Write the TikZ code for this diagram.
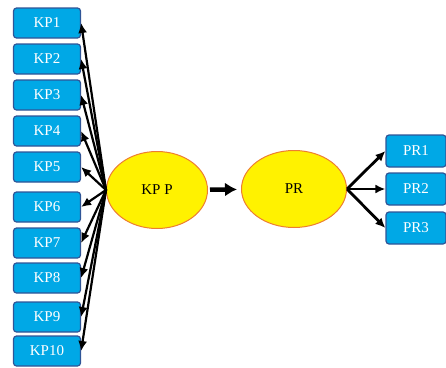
\documentclass[tikz,border=0pt]{standalone}
\usepackage{fontspec}
\setmainfont{Liberation Serif}
\usetikzlibrary{shapes,arrows,arrows.meta,positioning}
\usepackage{xcolor}
\definecolor{boxblue}{HTML}{00A8E6}
\definecolor{boxedge}{HTML}{2F5597}
\definecolor{ovaledge}{HTML}{ED7D31}

\begin{document}
\begin{tikzpicture}[x=1pt,y=-1pt]
      \tikzstyle{kp} = [rectangle, rounded corners=3pt, draw=boxedge, line width=1.2pt, fill=boxblue, text=white, minimum width=67pt, minimum height=30pt, font=\fontsize{15}{17}\selectfont]
      \tikzstyle{latent} = [ellipse, draw=ovaledge, line width=1pt, fill=yellow, minimum width=101pt, minimum height=77pt, font=\fontsize{15}{17}\selectfont]
      \tikzstyle{link} = [-{Latex[length=10pt,width=9pt]}, line width=2.2pt]
      \useasboundingbox (0,0) rectangle (446,367);

      \node[kp] (kp1) at (47,23) {KP1};
      \node[kp] (kp2) at (47,59) {KP2};
      \node[kp] (kp3) at (47,95) {KP3};
      \node[kp] (kp4) at (47,131) {KP4};
      \node[kp] (kp5) at (47,167) {KP5};
      \node[kp] (kp6) at (47,207) {KP6};
      \node[kp] (kp7) at (47,243) {KP7};
      \node[kp] (kp8) at (47,278) {KP8};
      \node[kp] (kp9) at (47,317) {KP9};
      \node[kp] (kp10) at (47,351) {KP10};

      \node[latent] (kpp) at (157,190) {KP P};
      \node[latent, minimum width=105pt] (pr) at (294,189) {PR};

      \node[kp, minimum width=60pt, minimum height=32pt] (pr1) at (416,151) {PR1};
      \node[kp, minimum width=60pt, minimum height=32pt] (pr2) at (416,189) {PR2};
      \node[kp, minimum width=60pt, minimum height=32pt] (pr3) at (416,228) {PR3};

      \draw[link] (kpp.west) -- (kp1.east);
      \draw[link] (kpp.west) -- (kp2.east);
      \draw[link] (kpp.west) -- (kp3.east);
      \draw[link] (kpp.west) -- (kp4.east);
      \draw[link] (kpp.west) -- (kp5.east);
      \draw[link] (kpp.west) -- (kp6.east);
      \draw[link] (kpp.west) -- (kp7.east);
      \draw[link] (kpp.west) -- (kp8.east);
      \draw[link] (kpp.west) -- (kp9.east);
      \draw[link] (kpp.west) -- (kp10.east);

      \draw[-{Latex[length=12pt,width=14pt]}, line width=4.5pt, shorten <=2pt, shorten >=4pt] (kpp) -- (pr);
      \draw[link, line width=2.8pt] (pr.east) -- (pr1.west);
      \draw[link, line width=2.8pt] (pr.east) -- (pr2.west);
      \draw[link, line width=2.8pt] (pr.east) -- (pr3.west);
    \end{tikzpicture}
\end{document}
